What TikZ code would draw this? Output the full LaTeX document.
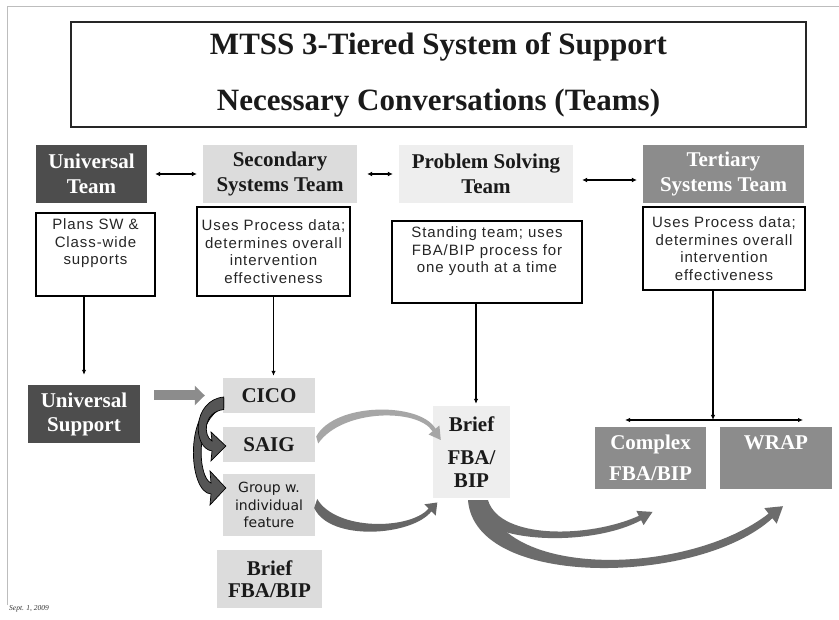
\documentclass[tikz,border=0pt]{standalone}
\usepackage{fontspec}
\setmainfont{Liberation Serif}
\newfontfamily\descfont[LetterSpace=6]{Liberation Sans}
\newfontfamily\groupfont{DejaVu Sans}
\usetikzlibrary{arrows.meta}
\definecolor{tierdark}{HTML}{4D4D4D}
\definecolor{tiermid}{HTML}{8C8C8C}
\definecolor{tierlight}{HTML}{DCDCDC}
\definecolor{tierpale}{HTML}{EEEEEE}
\definecolor{swooshgray}{HTML}{6C6C6C}
\definecolor{arclight}{HTML}{A6A6A6}
\definecolor{arcdark}{HTML}{666666}
\definecolor{curlgray}{HTML}{555555}
\definecolor{framegray}{HTML}{BDBDBD}
\definecolor{inktext}{HTML}{1A1A1A}

\begin{document}
\begin{tikzpicture}[x=1pt,y=-1pt,
  titlebox/.style={draw=black!85, line width=1.3pt, minimum width=735pt, minimum height=105pt,
    align=center, inner sep=0pt, text=inktext, font=\fontsize{31}{56}\selectfont\bfseries},
  head/.style={align=center, inner sep=0pt, minimum height=58pt, text=inktext,
    font=\fontsize{21}{25}\selectfont\bfseries},
  desc/.style={draw=black, line width=1.1pt, fill=white, inner sep=0pt, text=black!85,
    font=\descfont\fontsize{15}{17.5}\selectfont},
  tierbox/.style={align=center, inner sep=0pt, text=inktext,
    font=\fontsize{21}{24}\selectfont\bfseries},
  twoway/.style={line width=1.5pt, {Latex[length=5pt,width=5pt]}-{Latex[length=5pt,width=5pt]}},
  feed/.style={line width=1.3pt, -{Latex[length=5pt,width=4.5pt]}},
  blockarrow/.style={line width=10pt, draw=tiermid, -{Triangle[length=10pt,width=19pt]}},
  curl/.style={fill=curlgray, draw=black, line width=0.7pt},
]
\fill[white] (0,0) rectangle (839,620);
\useasboundingbox (0,0) rectangle (839,620);
\draw[framegray, line width=1pt] (7,605) -- (7,7) -- (839,7);

% title
\node[titlebox] (title) at (438.5,74.5) {MTSS 3-Tiered System of Support\\Necessary Conversations (Teams)};

% team headings
\node[head, fill=tierdark, text=white, minimum width=111pt] (uteam) at (91.5,174) {Universal\\Team};
\node[head, fill=tierlight, minimum width=154pt] (steam) at (280,174) {Secondary\\Systems Team};
\node[head, fill=tierpale, minimum width=174pt] (pteam) at (486,174) {Problem Solving\\Team};
\node[head, fill=tiermid, text=white, minimum width=161pt] (tteam) at (723.5,174) {Tertiary\\Systems Team};

\draw[twoway, shorten <=8pt, shorten >=6pt] (uteam) -- (steam);
\draw[twoway, shorten <=10pt, shorten >=6pt] (steam) -- (pteam);
\draw[twoway, shorten <=9pt, shorten >=6pt] ([yshift=-6pt]pteam.east) -- ([yshift=-6pt]tteam.west);

% team descriptions
\node[desc] (d1) at (95.5,254.5) {\parbox[c][83pt][t]{119pt}{\centering\vspace*{6pt}Plans SW \&\\Class-wide\\supports}};
\node[desc] (d2) at (273.5,251.5) {\parbox[c][89pt][c]{153pt}{\centering Uses Process data;\\determines overall\\intervention\\effectiveness}};
\node[desc] (d3) at (487,262) {\parbox[c][82pt][t]{190pt}{\centering\vspace*{6pt}Standing team; uses\\FBA/BIP process for\\one youth at a time}};
\node[desc] (d4) at (724,248.5) {\parbox[c][83pt][c]{162pt}{\centering Uses Process data;\\determines overall\\intervention\\effectiveness}};

% supports
\node[tierbox, fill=tierdark, text=white, minimum width=112pt, minimum height=58pt] (usup) at (84,414) {Universal\\Support};
\node[tierbox, fill=tierlight, minimum width=92pt, minimum height=35pt] (cico) at (269,395.5) {CICO};
\node[tierbox, fill=tierlight, minimum width=92pt, minimum height=35pt] (saig) at (269,444.5) {SAIG};
\node[tierbox, fill=tierlight, minimum width=92pt, minimum height=62pt,
  font=\groupfont\fontsize{14}{17.5}\selectfont] (group) at (269,505) {Group w.\\individual\\feature};
\node[tierbox, fill=tierlight, minimum width=105pt, minimum height=58pt,
  font=\fontsize{21}{22}\selectfont\bfseries] (bbrief) at (269.5,579) {Brief\\FBA/BIP};
\node[tierbox, fill=tierpale, minimum width=77pt, minimum height=92pt,
  font=\fontsize{21}{23}\selectfont\bfseries] (brief) at (471.5,452) {Brief\\[10pt]FBA/\\BIP};
\node[tierbox, fill=tiermid, text=white, minimum width=111pt, minimum height=62pt,
  font=\fontsize{21}{31}\selectfont\bfseries] (complex) at (650.5,458) {Complex\\FBA/BIP};
\node[tierbox, fill=tiermid, text=white] (wrap) at (776,458) {\parbox[c][62pt][t]{112pt}{\centering\vspace*{9pt}WRAP}};

% team-to-support links
\draw[feed, shorten >=10pt] (d1.south -| usup.north) -- (usup.north);
\draw[feed, shorten >=2pt] (d2.south) -- (d2.south |- cico.north);
\coordinate (bt) at ([xshift=4.5pt]brief.north);
\draw[feed, shorten >=2pt] (d3.south -| bt) -- (bt);
\coordinate (split) at (713,420);
\coordinate (barL) at (625,420);
\coordinate (barR) at (803,420);
\draw[feed] (d4.south -| split) -- (split);
\draw[line width=1.3pt, {Latex[length=5pt,width=4.5pt]}-{Latex[length=5pt,width=4.5pt]}] (barL) -- (barR);

% block arrow from universal support
\coordinate (ba) at ([xshift=14pt]usup.east);
\draw[blockarrow, shorten >=18pt] (ba |- cico.west) -- (cico.west);

% curled arrows from CICO
\filldraw[curl] ([shift={(1,3)}]cico.west) .. controls (183,405) and (188,493) .. (211,494)
  -- (210,505) -- ([shift={(3,-17)}]group.west) -- (210,471) -- (211,483)
  .. controls (198,478) and (194,418) .. ([shift={(1,12)}]cico.west) -- cycle;
\filldraw[curl] ([shift={(1,1.5)}]cico.west) .. controls (192,400) and (192,448) .. (212,451)
  -- (211,461) -- ([shift={(3,1.5)}]saig.west) -- (211,432) -- (212,441)
  .. controls (203,436) and (203,412) .. ([shift={(1,14)}]cico.west) -- cycle;

% arcs into the brief FBA/BIP
\fill[arclight] ([shift={(1,-8)}]saig.east) .. controls (335,402) and (420,402) .. (435.5,428.7)
  -- (439.4,425.5) -- ([shift={(8,-12)}]brief.west) -- (428.6,434.5) -- (432.5,431.3)
  .. controls (418,408) and (342,409) .. ([shift={(3,-1)}]saig.east) -- cycle;
\fill[arcdark] ([shift={(-1,3)}]group.east) .. controls (330,542) and (412,536) .. (431.4,511.4)
  -- (435.7,515.7) -- ([shift={(4.5,50.5)}]brief.west) -- (424.3,504.3) -- (428.6,508.6)
  .. controls (410,530) and (336,531) .. ([shift={(2,-6)}]group.east) -- cycle;

% swooshes to the tertiary supports
\fill[swooshgray] ([shift={(-3.5,2)}]brief.south) .. controls (475,590) and (700,585) .. (772.4,518.2)
  -- (776.7,523.7) -- ([shift={(7,17)}]wrap.south) -- (764.3,508.1) -- (768.6,513.6)
  .. controls (690,575) and (505,580) .. ([shift={(14.5,2)}]brief.south) -- cycle;
\fill[swooshgray] ([shift={(-2.5,2)}]brief.south) .. controls (472,545) and (590,548) .. (641.1,520.2)
  -- (643.6,525.1) -- ([shift={(2,22.7)}]complex.south) -- (636.4,510.9) -- (638.9,515.8)
  .. controls (590,538) and (500,540) .. ([shift={(16.5,2)}]brief.south) -- cycle;

\node[anchor=west, inner sep=0pt, text=black!80, font=\fontsize{7.5}{8}\selectfont\itshape] (date) at (9,609) {Sept. 1, 2009};
\end{tikzpicture}
\end{document}
